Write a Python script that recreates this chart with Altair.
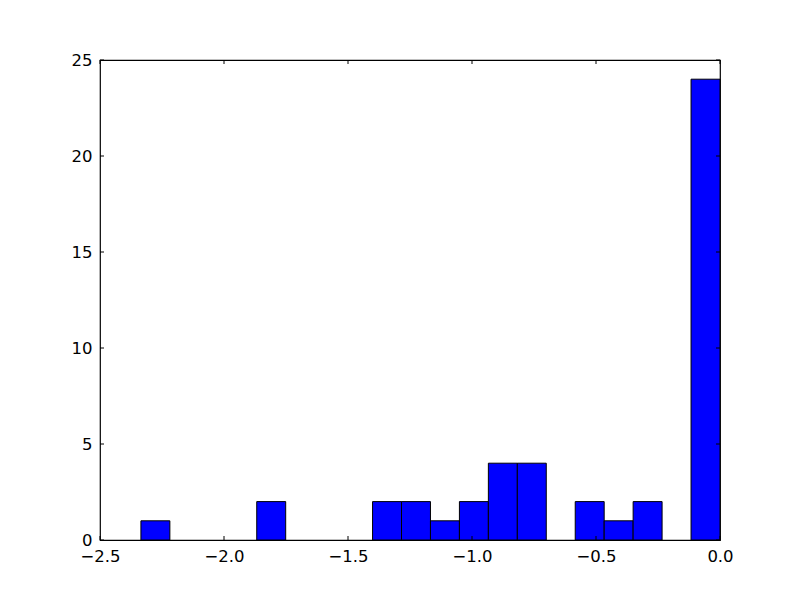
import altair as alt
import numpy as np
import pandas as pd

# Histogram: 20 bins from data min to max
data_min = -2.335
data_max = 0.0
counts = [1, 0, 0, 0, 2, 0, 0, 0, 2, 2, 1, 2, 4, 4, 0, 2, 1, 2, 0, 24]
x_ticks = [-2.5, -2.0, -1.5, -1.0, -0.5, 0.0]
y_ticks = [0, 5, 10, 15, 20, 25]

edges = np.linspace(data_min, data_max, len(counts) + 1)
df = pd.DataFrame({"start": edges[:-1], "end": edges[1:], "count": counts})
df = df[df["count"] > 0]

W, H = 620, 480
FONT = "DejaVu Sans"
FS = 16.5

xscale = alt.Scale(domain=[-2.5, 0.0], nice=False, zero=False)
yscale = alt.Scale(domain=[0, 25], nice=False)

bars = alt.Chart(df).mark_bar(
    color="#0000ff", stroke="black", strokeWidth=1, opacity=1
).encode(
    x=alt.X("start:Q", scale=xscale,
            axis=alt.Axis(values=x_ticks, format=".1f", title=None, grid=False,
                          domain=False, ticks=False, labelPadding=8,
                          labelFlush=False,
                          labelFont=FONT, labelFontSize=FS, labelColor="black")),
    x2="end:Q",
    y=alt.Y("count:Q", scale=yscale,
            axis=alt.Axis(values=y_ticks, title=None, grid=False, domain=False,
                          ticks=False, labelPadding=8, labelFont=FONT,
                          labelFlush=False,
                          labelFontSize=FS, labelColor="black")),
    y2=alt.datum(0),
)

xt = pd.DataFrame({"v": x_ticks})
yt = pd.DataFrame({"v": y_ticks})

xb = alt.Chart(xt).mark_rule(color="black", strokeWidth=1).encode(
    x=alt.X("v:Q", scale=xscale), y=alt.value(H), y2=alt.value(H - 4))
xtp = alt.Chart(xt).mark_rule(color="black", strokeWidth=1).encode(
    x=alt.X("v:Q", scale=xscale), y=alt.value(0), y2=alt.value(4))
yl = alt.Chart(yt).mark_rule(color="black", strokeWidth=1).encode(
    y=alt.Y("v:Q", scale=yscale), x=alt.value(0), x2=alt.value(4))
yr = alt.Chart(yt).mark_rule(color="black", strokeWidth=1).encode(
    y=alt.Y("v:Q", scale=yscale), x=alt.value(W), x2=alt.value(W - 4))

chart = alt.layer(bars, xb, xtp, yl, yr).properties(
    width=W, height=H,
    background="white",
    autosize=alt.AutoSizeParams(type="none"),
    padding={"left": 92, "top": 52, "right": 60, "bottom": 52},
).configure_view(stroke="black", strokeWidth=1.2)

chart.save("out.html", embed_options={"renderer": "svg", "actions": False})
